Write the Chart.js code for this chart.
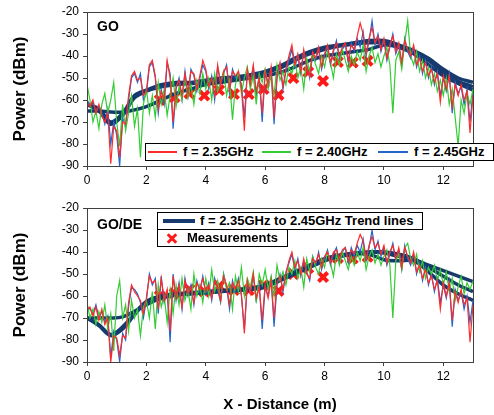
<!DOCTYPE html>
<html>
<head>
<meta charset="utf-8">
<script src="https://cdn.jsdelivr.net/npm/chart.js@4.4.0/dist/chart.umd.min.js"></script>
<style>
body{margin:0;background:#fff;width:494px;height:415px;overflow:hidden;position:relative;font-family:"Liberation Sans",Arial,sans-serif;color:#000}
canvas{position:absolute;left:0}
#topChart{top:0}
#botChart{top:196px}
.box{position:absolute;background:#fff;border:1px solid #000;box-sizing:border-box;font-weight:bold;font-size:13px}
.ln{position:absolute}
.txt{position:absolute;white-space:nowrap;line-height:16px;top:0}
.lab{position:absolute;font-weight:bold;font-size:14px;white-space:nowrap}
.xb{position:absolute;width:12px;height:3px;background:#ff1a1a;left:8px;top:7px}
</style>
</head>
<body>
<canvas id="topChart" width="494" height="196"></canvas>
<canvas id="botChart" width="494" height="219"></canvas>

<div class="lab" style="left:97px;top:18px">GO</div>
<div class="lab" style="left:97px;top:216px">GO/DE</div>

<div class="box" style="left:145px;top:143px;width:349px;height:18px">
  <div class="ln" style="left:2px;top:7px;width:29px;height:2px;background:#ff2a2a"></div>
  <div class="txt" style="left:37px">f = 2.35GHz</div>
  <div class="ln" style="left:116px;top:7px;width:29px;height:2px;background:#33cc33"></div>
  <div class="txt" style="left:151px">f = 2.40GHz</div>
  <div class="ln" style="left:232px;top:7px;width:30px;height:2px;background:#2266cc"></div>
  <div class="txt" style="left:268px">f = 2.45GHz</div>
</div>
<div class="box" style="left:157px;top:212px;width:266px;height:18px">
  <div class="ln" style="left:5px;top:6px;width:32px;height:4px;background:#173a6e"></div>
  <div class="txt" style="left:42px">f = 2.35GHz to 2.45GHz Trend lines</div>
</div>
<div class="box" style="left:157px;top:229px;width:131px;height:18px">
  <div class="xb" style="transform:rotate(45deg)"></div>
  <div class="xb" style="transform:rotate(-45deg)"></div>
  <div class="txt" style="left:29px">Measurements</div>
</div>

<script>
// axis ticks
const xTicks = [0, 2, 4, 6, 8, 10, 12];
const yTicks = [-90, -80, -70, -60, -50, -40, -30, -20];
const step = 0.1; // sampling distance of the simulated traces (m)

// GO (top) simulated traces, one value every 0.1 m from 0 to 13 m
const goRed = [
  -61,-63,-60,-66,-62,-67,-70,-66,-89,-72,
  -74,-86,-70,-71,-58,-49,-47,-51,-50,-58,
  -56,-44,-42,-49,-64,-56,-60,-42,-50,-70,
  -54,-51,-58,-48,-57,-47,-48,-55,-49,-42,
  -46,-54,-50,-58,-44,-53,-47,-45,-55,-47,
  -49,-47,-54,-74,-46,-53,-44,-56,-50,-66,
  -47,-53,-45,-68,-49,-43,-54,-46,-40,-35,
  -44,-39,-47,-37,-45,-49,-38,-41,-36,-45,
  -39,-35,-43,-37,-34,-40,-36,-34,-42,-35,
  -37,-31,-25,-30,-39,-32,-27,-34,-31,-37,
  -32,-41,-35,-31,-38,-34,-43,-33,-37,-40,
  -35,-44,-41,-47,-43,-49,-46,-52,-48,-61,
  -49,-55,-49,-63,-53,-58,-53,-60,-56,-75,
  -58
];
const goGreen = [
  -53,-60,-70,-65,-73,-62,-57,-66,-60,-52,
  -70,-81,-62,-74,-66,-58,-72,-64,-86,-62,
  -55,-66,-58,-68,-52,-62,-55,-67,-58,-50,
  -63,-54,-60,-50,-59,-53,-62,-51,-57,-48,
  -55,-50,-60,-48,-56,-52,-47,-58,-51,-69,
  -53,-47,-57,-50,-45,-55,-49,-62,-48,-52,
  -46,-55,-49,-58,-44,-51,-47,-53,-45,-48,
  -42,-50,-45,-55,-41,-47,-39,-44,-48,-40,
  -45,-38,-43,-50,-39,-44,-37,-42,-47,-40,
  -44,-38,-42,-35,-47,-40,-36,-43,-39,-45,
  -40,-36,-44,-66,-42,-38,-46,-34,-24,-40,
  -44,-38,-47,-42,-50,-45,-53,-48,-56,-51,
  -58,-50,-62,-55,-68,-81,-60,-66,-57,-62,
  -55
];
const goBlue = [
  -60,-62,-61,-65,-63,-66,-71,-64,-80,-70,
  -76,-90,-68,-72,-60,-50,-48,-52,-48,-60,
  -57,-45,-43,-50,-66,-55,-62,-43,-48,-73,
  -55,-50,-60,-47,-58,-46,-49,-56,-50,-44,
  -47,-55,-49,-60,-45,-52,-48,-44,-57,-46,
  -50,-48,-53,-68,-47,-52,-45,-58,-49,-70,
  -48,-52,-46,-71,-50,-44,-55,-47,-42,-37,
  -45,-40,-48,-38,-44,-50,-39,-42,-37,-46,
  -40,-36,-44,-38,-33,-41,-37,-35,-43,-34,
  -38,-32,-36,-29,-40,-33,-24,-35,-30,-38,
  -33,-42,-36,-30,-39,-35,-44,-32,-38,-41,
  -36,-45,-40,-48,-42,-50,-45,-53,-47,-58,
  -50,-56,-48,-66,-52,-57,-54,-62,-55,-70,
  -56
];

// GO/DE (bottom) simulated traces
const deRed = [
  -66,-65,-69,-65,-71,-66,-73,-70,-90,-78,
  -79,-87,-78,-79,-63,-55,-58,-60,-62,-68,
  -61,-51,-54,-53,-66,-52,-62,-57,-76,-51,
  -61,-55,-65,-53,-59,-56,-63,-54,-57,-52,
  -58,-55,-61,-53,-56,-62,-51,-55,-64,-54,
  -57,-53,-59,-77,-53,-59,-50,-61,-56,-71,
  -55,-61,-53,-70,-54,-51,-57,-50,-44,-40,
  -47,-44,-50,-43,-50,-52,-43,-45,-41,-47,
  -42,-40,-45,-40,-39,-43,-39,-38,-44,-39,
  -41,-36,-32,-35,-43,-37,-33,-38,-36,-41,
  -37,-45,-40,-37,-43,-38,-47,-38,-42,-45,
  -40,-49,-46,-52,-48,-54,-51,-57,-53,-66,
  -54,-60,-54,-71,-58,-63,-57,-64,-61,-81,
  -64
];
const deGreen = [
  -63,-70,-66,-73,-67,-72,-64,-75,-68,-85,
  -60,-53,-70,-64,-76,-62,-70,-66,-78,-65,
  -62,-70,-58,-75,-55,-65,-60,-72,-57,-68,
  -55,-64,-52,-62,-57,-66,-50,-60,-55,-63,
  -52,-60,-48,-58,-53,-62,-50,-57,-54,-66,
  -51,-58,-47,-60,-52,-56,-49,-63,-50,-55,
  -48,-57,-51,-60,-46,-53,-49,-55,-47,-50,
  -44,-52,-47,-56,-43,-49,-42,-47,-50,-43,
  -47,-40,-45,-51,-41,-46,-40,-44,-48,-42,
  -46,-40,-44,-38,-48,-42,-39,-45,-41,-46,
  -42,-39,-46,-70,-44,-41,-48,-38,-36,-43,
  -46,-41,-49,-44,-52,-47,-50,-46,-53,-48,
  -55,-49,-58,-52,-62,-56,-51,-59,-54,-57,
  -53
];
const deBlue = [
  -65,-66,-68,-64,-70,-67,-72,-69,-88,-76,
  -80,-90,-77,-80,-65,-56,-57,-59,-63,-70,
  -62,-50,-55,-52,-68,-51,-63,-58,-81,-50,
  -62,-54,-66,-52,-60,-55,-64,-53,-58,-51,
  -59,-54,-62,-52,-57,-63,-50,-56,-66,-53,
  -58,-52,-60,-75,-54,-58,-51,-62,-55,-75,
  -56,-60,-52,-74,-55,-50,-58,-49,-45,-41,
  -48,-43,-51,-44,-49,-53,-42,-46,-40,-48,
  -43,-39,-46,-41,-38,-44,-40,-38,-45,-38,
  -42,-37,-40,-34,-44,-38,-30,-39,-35,-42,
  -38,-46,-41,-36,-44,-39,-48,-37,-43,-46,
  -41,-50,-45,-53,-47,-55,-50,-58,-52,-63,
  -55,-61,-53,-74,-57,-62,-58,-66,-60,-72,
  -62
];

// trend lines
const trendX = [0,0.4,0.8,1.2,1.6,2,2.5,3,3.5,4,4.5,5,5.5,6,6.5,7,7.5,8,8.5,9,9.5,10,10.5,11,11.5,12,12.5,13];
const goTrend1 = [-62,-64,-70,-66,-58,-55.5,-53,-52,-52,-51,-50,-49.5,-48.5,-47,-44.5,-41,-38,-36,-35,-34,-33,-33,-35,-37.5,-41,-46,-50,-52];
const goTrend2 = [-62,-65,-71,-67,-59,-56,-54,-53,-52.5,-52,-51,-50,-49,-47.5,-45.5,-42,-39,-37,-35.5,-34.5,-34,-34,-35.5,-38,-42,-47.5,-51.5,-54];
const goTrend3 = [-65,-65,-65.5,-65.5,-64.5,-63,-60,-57,-55,-53,-52,-51,-50,-49,-47.5,-45,-42,-40,-39,-38,-37,-35,-36,-39,-44,-49,-52.5,-55.5];
const deTrend1 = [-70,-73,-77.5,-74,-68,-62.5,-60,-59,-58.5,-58,-57.5,-57,-56.5,-55,-52,-49,-46,-43,-41.5,-40.5,-40,-40,-41,-43,-47,-51,-55,-58];
const deTrend2 = [-70,-73.5,-78,-75,-68.5,-63,-60.5,-59.5,-59,-58.5,-58,-57.5,-57,-55.5,-52.5,-49.5,-46.5,-43.5,-42,-41,-41,-43.5,-44,-44,-49,-55,-59,-62];
const deTrend3 = [-70,-70,-70,-69.5,-67,-64,-61,-59.5,-59,-58.5,-58,-57.5,-57,-56,-53,-50,-47,-44,-42,-41,-40,-40.5,-42,-43.5,-46,-48.5,-51,-53.5];

// measurements
const measX = [2.45,2.95,3.45,3.95,4.45,4.95,5.45,5.95,6.45,6.95,7.45,7.95,8.45,8.95,9.45];
const measY = [-60,-58.8,-57,-58,-55.5,-57.3,-57.3,-55,-57.7,-50,-47.3,-51.4,-42.7,-43,-42.2];

const RED = "#ff2a2a", GREEN = "#33cc33", BLUE = "#2266cc", NAVY = "#173a6e";

function trace(ys) {
  return ys.map((y, i) => ({ x: +(i * step).toFixed(1), y: y }));
}
function pairs(xs, ys) {
  return ys.map((y, i) => ({ x: xs[i], y: y }));
}

function datasets(r, g, b, t1, t2, t3) {
  const thin = c => ({ borderColor: c, borderWidth: 1.2, pointRadius: 0, tension: 0 });
  const trend = { borderColor: NAVY, borderWidth: 3.5, pointRadius: 0, tension: 0.35 };
  return [
    Object.assign({ data: trace(r) }, thin(RED)),
    Object.assign({ data: trace(g) }, thin(GREEN)),
    Object.assign({ data: trace(b) }, thin(BLUE)),
    Object.assign({ data: pairs(trendX, t1) }, trend),
    Object.assign({ data: pairs(trendX, t2) }, trend),
    Object.assign({ data: pairs(trendX, t3) }, trend),
    {
      data: pairs(measX, measY), showLine: false, pointStyle: "crossRot",
      pointRadius: 6.5, borderWidth: 4, borderColor: "#ff1a1a", backgroundColor: "#ff1a1a"
    }
  ];
}

// box round the plot area
const frame = {
  id: "frame",
  afterDatasetsDraw(chart) {
    const a = chart.chartArea, ctx = chart.ctx;
    ctx.save();
    ctx.strokeStyle = "#404040";
    ctx.lineWidth = 1;
    ctx.strokeRect(Math.round(a.left) + 0.5, Math.round(a.top) + 0.5,
      Math.round(a.right - a.left), Math.round(a.bottom - a.top));
    ctx.restore();
  }
};

function options(xTitle, xHeight) {
  const tickFont = { family: "Liberation Sans, Arial", size: 12 };
  return {
    responsive: false,
    animation: false,
    devicePixelRatio: 1,
    layout: { padding: { top: 12, right: 21, left: 0, bottom: 0 } },
    plugins: { legend: { display: false }, tooltip: { enabled: false } },
    scales: {
      x: {
        type: "linear", min: 0, max: 13,
        afterBuildTicks: s => { s.ticks = xTicks.map(v => ({ value: v })); },
        afterFit: s => { s.height = xHeight; },
        grid: { drawOnChartArea: false, drawTicks: true, tickLength: 4, color: "#404040" },
        border: { display: false },
        ticks: { color: "#000", font: tickFont, padding: 3, maxRotation: 0 },
        title: {
          display: !!xTitle, text: xTitle, color: "#000",
          font: { family: "Liberation Sans, Arial", size: 15, weight: "bold" }, padding: { top: 6, bottom: 1 }
        }
      },
      y: {
        min: -90, max: -20,
        afterBuildTicks: s => { s.ticks = yTicks.map(v => ({ value: v })); },
        afterFit: s => { s.width = 87; },
        grid: { drawOnChartArea: false, drawTicks: true, tickLength: 4, color: "#404040" },
        border: { display: false },
        ticks: { color: "#000", font: tickFont, padding: 4 },
        title: {
          display: true, text: "Power (dBm)", color: "#000",
          font: { family: "Liberation Sans, Arial", size: 17, weight: "bold" }, padding: { top: 10, bottom: 0 }
        }
      }
    }
  };
}

new Chart(document.getElementById("topChart"), {
  type: "line",
  data: { datasets: datasets(goRed, goGreen, goBlue, goTrend1, goTrend2, goTrend3) },
  options: options("", 30),
  plugins: [frame]
});

new Chart(document.getElementById("botChart"), {
  type: "line",
  data: { datasets: datasets(deRed, deGreen, deBlue, deTrend1, deTrend2, deTrend3) },
  options: options("X - Distance (m)", 53),
  plugins: [frame]
});
</script>
</body>
</html>
